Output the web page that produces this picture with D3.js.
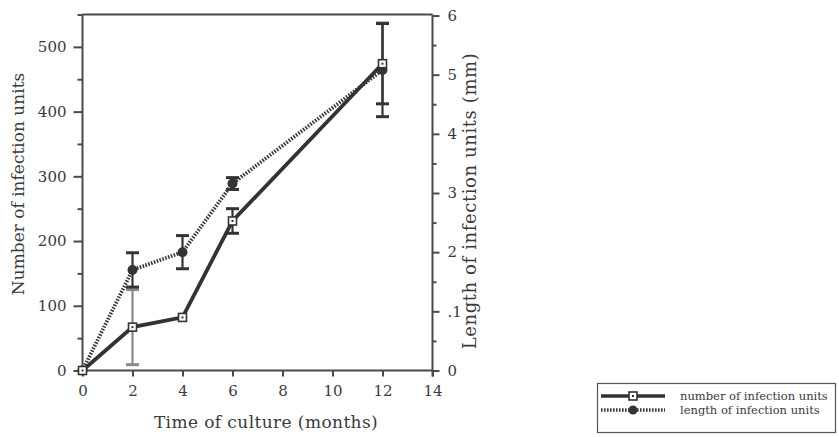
<!DOCTYPE html>
<html>
<head>
<meta charset="utf-8">
<script src="https://cdn.jsdelivr.net/npm/d3@7"></script>
<style>
  html, body { margin: 0; padding: 0; background: #fff; }
  svg { display: block; }
  text { font-family: "DejaVu Serif", "Liberation Serif", serif; fill: #3a3a3a; }
</style>
</head>
<body>
<svg id="chart" width="839" height="437"></svg>
<script>
// ---- data ----
const months = [0, 2, 4, 6, 12];
const numberUnits = [0, 67, 82, 231, 474];
const numberErr = [0, 58, 0, 19, 62];
const lengthUnits = [0, 1.70, 2.0, 3.16, 5.08];
const lengthErr = [0, 0.29, 0.28, 0.1, 0.79];
const xTicks = [0, 2, 4, 6, 8, 10, 12, 14];
const leftTicks = [0, 100, 200, 300, 400, 500];
const leftMinor = [50, 150, 250, 350, 450, 550];
const rightTicks = [0, 1, 2, 3, 4, 5, 6];
const rightMinor = [0.5, 1.5, 2.5, 3.5, 4.5, 5.5];
const rightTickLabels = ["0", ".1", "2", "3", "4", "5", "6"];
const xTitle = "Time of culture (months)";
const leftTitle = "Number of infection units";
const rightTitle = "Length of infection units (mm)";
const legendLabels = ["number of infection units", "length of infection units"];

// ---- layout ----
const svg = d3.select("#chart");
const L = 82.5, R = 432.5, T = 14.5, B = 370.5;
const axisColor = "#4a4a4a";
const tickFont = "15px";

const x = d3.scaleLinear().domain([0, 14]).range([L, R]);
const yL = d3.scaleLinear().domain([0, 550]).range([B, T]);
const yR = d3.scaleLinear().domain([0, 6]).range([B, T + 1]);

// frame: top line
svg.append("line").attr("x1", L).attr("x2", R).attr("y1", T).attr("y2", T)
  .attr("stroke", axisColor).attr("stroke-width", 2);

function styleAxis(g) {
  g.select(".domain").attr("stroke", axisColor).attr("stroke-width", 2);
  g.selectAll(".tick line").attr("stroke", axisColor).attr("stroke-width", 2);
  g.selectAll(".tick text").attr("fill", "#3a3a3a")
    .style("font-family", '"DejaVu Serif", serif').style("font-size", tickFont);
}

// left axis
const gL = svg.append("g").attr("transform", `translate(${L},0)`)
  .call(d3.axisLeft(yL).tickValues(leftTicks).tickSize(9).tickSizeOuter(0).tickPadding(7).tickFormat(d3.format("d")));
styleAxis(gL);
gL.select(".domain").attr("d", `M0,${B}V${T}`);
svg.append("g").attr("transform", `translate(${L},0)`)
  .call(d3.axisLeft(yL).tickValues(leftMinor).tickSize(5).tickFormat(""))
  .call(g => { g.select(".domain").remove(); g.selectAll("line").attr("stroke", axisColor).attr("stroke-width", 2); });

// right axis
const gR = svg.append("g").attr("transform", `translate(${R},0)`)
  .call(d3.axisRight(yR).tickValues(rightTicks).tickSize(7).tickSizeOuter(0).tickPadding(8)
    .tickFormat((d, i) => rightTickLabels[i]));
styleAxis(gR);
gR.select(".domain").attr("d", `M0,${B + 6}V${T}`);
svg.append("g").attr("transform", `translate(${R},0)`)
  .call(d3.axisRight(yR).tickValues(rightMinor).tickSize(4).tickFormat(""))
  .call(g => { g.select(".domain").remove(); g.selectAll("line").attr("stroke", axisColor).attr("stroke-width", 2); });

// bottom axis
const gB = svg.append("g").attr("transform", `translate(0,${B})`)
  .call(d3.axisBottom(x).tickValues(xTicks).tickSize(6).tickSizeOuter(0).tickPadding(9));
styleAxis(gB);
gB.select(".domain").attr("d", `M${L - 4},0H${R}`);

// titles
svg.append("text").attr("x", 266).attr("y", 428).attr("text-anchor", "middle")
  .style("font-size", "17px").style("letter-spacing", "0.4px").text(xTitle);
svg.append("text").attr("transform", `translate(24,${184}) rotate(-90)`).attr("text-anchor", "middle")
  .style("font-size", "17px").text(leftTitle);
svg.append("text").attr("transform", `translate(476,${201}) rotate(-90)`).attr("text-anchor", "middle")
  .style("font-size", "18px").style("letter-spacing", "0.6px").text(rightTitle);

// ---- series ----
const numData = months.map((m, i) => ({ m, v: numberUnits[i], e: numberErr[i] }));
const lenData = months.map((m, i) => ({ m, v: lengthUnits[i], e: lengthErr[i] }));
const dark = "#333";

function errorBars(data, y, color) {
  const g = svg.append("g").attr("stroke", color).attr("stroke-width", 2.2);
  data.filter(d => d.e > 0).forEach(d => {
    const cx = x(d.m), y1 = y(d.v + d.e), y2 = y(d.v - d.e);
    g.append("line").attr("x1", cx).attr("x2", cx).attr("y1", y1).attr("y2", y2);
    g.append("line").attr("x1", cx - 6.5).attr("x2", cx + 6.5).attr("y1", y1).attr("y2", y1).attr("stroke-width", 3);
    g.append("line").attr("x1", cx - 6.5).attr("x2", cx + 6.5).attr("y1", y2).attr("y2", y2).attr("stroke-width", 3);
  });
}

// error bars
errorBars([numData[1]], yL, "#8a8a8a");
errorBars(numData.slice(2), yL, dark);
errorBars(lenData, yR, dark);

// length line (dotted)
svg.append("path").datum(lenData)
  .attr("d", d3.line().x(d => x(d.m)).y(d => yR(d.v)))
  .attr("fill", "none").attr("stroke", "#3a3a3a").attr("stroke-width", 3.8)
  .attr("stroke-dasharray", "1.6,1.4");

// number line (solid)
svg.append("path").datum(numData)
  .attr("d", d3.line().x(d => x(d.m)).y(d => yL(d.v)))
  .attr("fill", "none").attr("stroke", dark).attr("stroke-width", 3.8);

// markers
svg.append("g").selectAll("circle").data(lenData).join("circle")
  .attr("cx", d => x(d.m)).attr("cy", d => yR(d.v)).attr("r", 5).attr("fill", dark);

const sq = svg.append("g").selectAll("g").data(numData).join("g")
  .attr("transform", d => `translate(${x(d.m)},${yL(d.v)})`);
sq.append("rect").attr("x", -4).attr("y", -4).attr("width", 8).attr("height", 8)
  .attr("fill", "#fff").attr("stroke", dark).attr("stroke-width", 1.6);
sq.append("rect").attr("x", -1).attr("y", -1).attr("width", 2).attr("height", 2).attr("fill", dark);

// ---- legend ----
const lg = svg.append("g");
lg.append("rect").attr("x", 597.5).attr("y", 383.5).attr("width", 238).attr("height", 49)
  .attr("fill", "#fff").attr("stroke", "#555").attr("stroke-width", 1.2);
const ly = [396, 410];
lg.append("line").attr("x1", 601).attr("x2", 665).attr("y1", ly[0]).attr("y2", ly[0])
  .attr("stroke", dark).attr("stroke-width", 3.5);
lg.append("rect").attr("x", 629).attr("y", ly[0] - 4).attr("width", 8).attr("height", 8)
  .attr("fill", "#fff").attr("stroke", dark).attr("stroke-width", 1.6);
lg.append("rect").attr("x", 632).attr("y", ly[0] - 1).attr("width", 2).attr("height", 2).attr("fill", dark);
lg.append("line").attr("x1", 601).attr("x2", 665).attr("y1", ly[1]).attr("y2", ly[1])
  .attr("stroke", "#3a3a3a").attr("stroke-width", 3.5).attr("stroke-dasharray", "1.6,1.4");
lg.append("circle").attr("cx", 633).attr("cy", ly[1]).attr("r", 4.5).attr("fill", dark);
legendLabels.forEach((t, i) => {
  lg.append("text").attr("x", 680).attr("y", ly[i] + 4)
    .style("font-size", "11.5px").text(t);
});
</script>
</body>
</html>
